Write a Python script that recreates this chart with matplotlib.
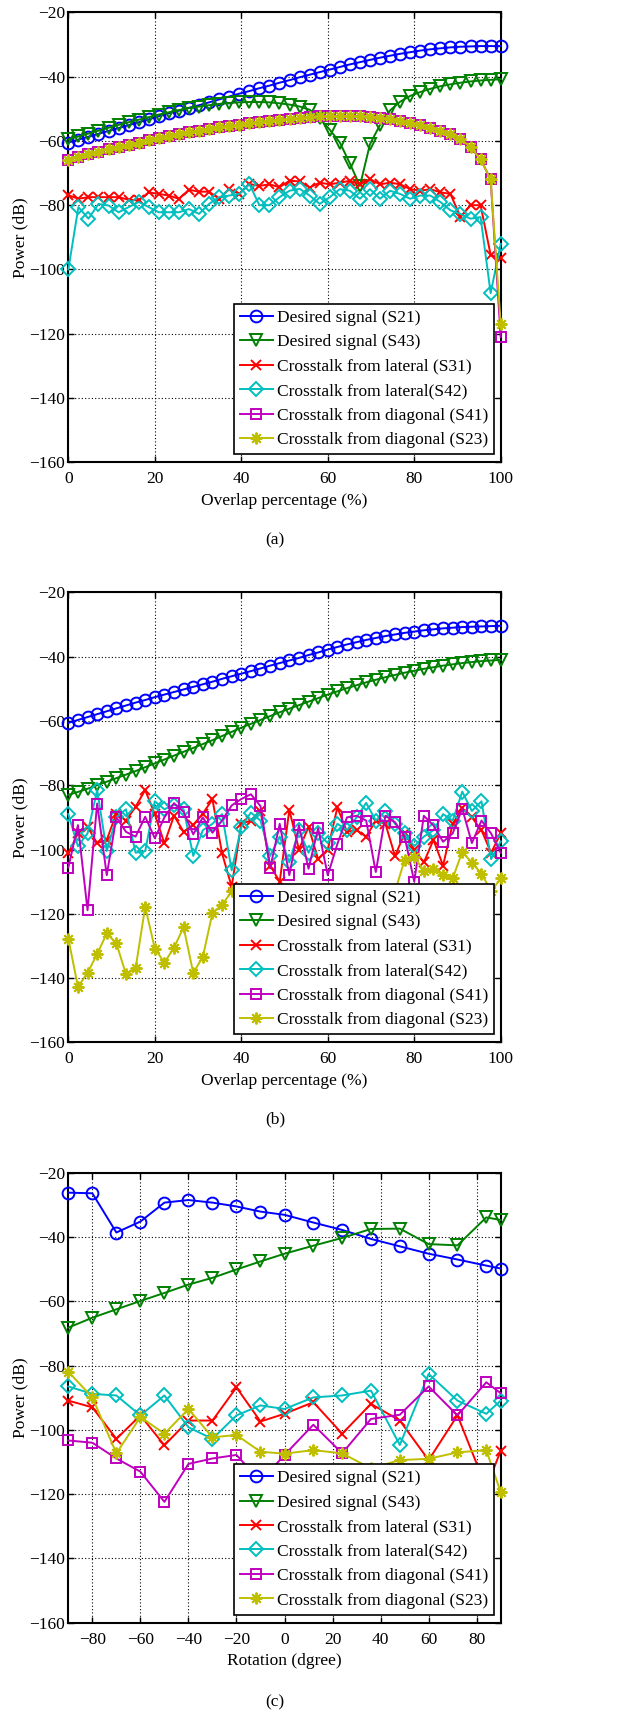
import numpy as np
import matplotlib
matplotlib.use("Agg")
import matplotlib.pyplot as plt

plt.rcParams["font.family"] = ["Liberation Serif", "DejaVu Serif"]

# (a) overlap sweep
overlap_a = np.linspace(0, 100, 44)
s21_a = [-60.5, -59.6, -58.7, -57.8, -56.9, -56.0, -55.1, -54.2, -53.3, -52.3,
         -51.4, -50.6, -49.7, -48.9, -48.0, -47.1, -46.2, -45.3, -44.5, -43.6,
         -42.8, -41.9, -41.1, -40.2, -39.4, -38.6, -37.8, -37.0, -36.2, -35.5,
         -34.8, -34.1, -33.5, -32.9, -32.4, -31.9, -31.5, -31.2, -30.9, -30.7,
         -30.6, -30.5, -30.5, -30.5]
s43_a = [-59.5, -58.6, -57.7, -56.8, -55.9, -55.0, -54.2, -53.4, -52.6, -51.8,
         -51.1, -50.4, -49.8, -49.3, -48.9, -48.5, -48.2, -48.0, -47.9, -47.9,
         -48.0, -48.3, -48.7, -49.3, -50.3, -53.0, -56.5, -60.5, -67.0, -74.0,
         -61.0, -55.0, -50.5, -47.8, -46.0, -44.8, -43.8, -43.0, -42.4, -41.9,
         -41.5, -41.2, -41.0, -40.8]
s31_a = [-76.9, -78.0, -77.5, -77.5, -77.5, -77.5, -78.3, -78.5, -76.0, -76.5,
         -77.0, -78.0, -75.2, -75.8, -75.8, -78.0, -75.0, -76.5, -73.4, -74.0,
         -73.5, -74.4, -72.4, -72.6, -74.5, -73.0, -73.5, -73.0, -72.4, -73.5,
         -71.9, -73.5, -73.0, -73.5, -75.0, -75.5, -75.0, -76.0, -76.5, -83.7,
         -80.0, -80.0, -95.5, -96.5]
s42_a = [-100.0, -80.6, -84.2, -79.6, -80.1, -82.2, -80.6, -79.0, -80.6, -82.2,
         -82.2, -82.2, -81.2, -82.7, -79.6, -77.5, -77.0, -76.5, -73.4, -80.0,
         -80.0, -77.5, -75.5, -74.9, -77.0, -79.6, -77.5, -75.0, -75.5, -78.0,
         -75.0, -78.0, -75.5, -76.5, -78.0, -77.0, -77.0, -79.0, -81.6, -82.7,
         -84.2, -83.7, -107.4, -92.0]
s41_a = [-65.8, -65.0, -64.2, -63.4, -62.6, -61.9, -61.2, -60.5, -59.8, -59.1,
         -58.5, -57.9, -57.3, -56.8, -56.3, -55.8, -55.3, -54.9, -54.5, -54.1,
         -53.7, -53.4, -53.1, -52.8, -52.6, -52.4, -52.3, -52.2, -52.2, -52.3,
         -52.5, -52.8, -53.2, -53.7, -54.4, -55.2, -56.0, -57.0, -58.0, -59.3,
         -62.0, -65.7, -72.0, -121.0]
s23_a = [-65.8, -65.0, -64.2, -63.4, -62.6, -61.9, -61.2, -60.5, -59.8, -59.1,
         -58.5, -57.9, -57.3, -56.8, -56.3, -55.8, -55.3, -54.9, -54.5, -54.1,
         -53.7, -53.4, -53.1, -52.8, -52.6, -52.4, -52.3, -52.2, -52.2, -52.3,
         -52.5, -52.8, -53.2, -53.7, -54.4, -55.2, -56.0, -57.0, -58.0, -59.3,
         -62.0, -65.7, -72.0, -117.0]

# (b) overlap sweep
overlap_b = np.linspace(0, 100, 46)
s21_b = [-60.6, -59.7, -58.8, -57.9, -57.0, -56.1, -55.2, -54.3, -53.5, -52.6,
         -51.8, -51.0, -50.2, -49.4, -48.6, -47.8, -46.9, -46.1, -45.3, -44.5,
         -43.7, -42.8, -42.0, -41.2, -40.4, -39.5, -38.7, -37.8, -37.0, -36.2,
         -35.5, -34.8, -34.2, -33.6, -33.1, -32.6, -32.2, -31.8, -31.5, -31.2,
         -31.0, -30.8, -30.7, -30.6, -30.5, -30.4]
s43_b = [-83.0, -82.1, -81.1, -80.0, -78.9, -77.8, -76.7, -75.6, -74.4, -73.2,
         -72.0, -70.8, -69.6, -68.4, -67.2, -66.0, -64.7, -63.4, -62.1, -60.9,
         -59.7, -58.5, -57.3, -56.2, -55.1, -54.0, -52.9, -51.8, -50.8, -49.8,
         -48.9, -48.0, -47.2, -46.4, -45.7, -45.0, -44.4, -43.8, -43.3, -42.8,
         -42.4, -42.0, -41.7, -41.4, -41.2, -41.0]
s31_b = [-101.2, -95.0, -93.0, -98.0, -97.0, -88.8, -91.0, -86.7, -81.5, -89.0,
         -98.1, -89.5, -94.5, -92.4, -88.8, -84.4, -101.2, -111.6, -92.0, -91.0,
         -88.0, -105.0, -110.0, -87.7, -100.0, -93.0, -103.0, -100.0, -86.9, -94.5,
         -94.0, -96.0, -91.0, -92.0, -102.0, -95.0, -100.0, -104.0, -97.0, -105.0,
         -92.0, -87.2, -90.0, -94.0, -101.0, -95.0]
s42_b = [-89.0, -99.0, -95.0, -81.5, -100.5, -90.0, -87.5, -101.0, -100.5, -85.0,
         -87.5, -86.0, -87.5, -102.0, -94.0, -92.0, -89.0, -106.5, -93.0, -88.5,
         -91.0, -102.0, -96.0, -104.0, -94.0, -101.0, -95.0, -98.0, -92.0, -94.0,
         -90.0, -85.5, -91.0, -88.0, -92.0, -95.0, -99.0, -96.0, -94.0, -89.0,
         -91.0, -82.0, -88.0, -85.0, -103.0, -97.5]
s41_b = [-105.6, -92.4, -118.9, -85.7, -108.0, -90.0, -94.5, -96.0, -89.8, -96.5,
         -90.0, -85.6, -88.3, -95.3, -90.0, -94.8, -91.0, -86.3, -84.3, -82.8,
         -86.5, -105.9, -92.0, -108.0, -92.5, -106.0, -93.4, -108.0, -98.3, -90.0,
         -89.5, -91.0, -107.0, -89.5, -91.5, -96.0, -110.0, -89.5, -92.5, -97.6,
         -95.0, -87.3, -98.0, -91.0, -95.0, -101.0]
s23_b = [-127.7, -142.7, -138.4, -132.5, -126.1, -129.2, -138.8, -137.0, -117.8, -130.8,
         -135.2, -130.5, -124.2, -138.4, -133.4, -119.7, -117.3, -113.0, -116.0, -114.0,
         -118.0, -115.0, -120.0, -114.0, -117.0, -113.0, -113.0, -114.0, -115.0, -118.0,
         -113.0, -116.0, -119.0, -114.0, -113.0, -103.3, -102.3, -106.6, -106.1, -108.0,
         -109.0, -100.7, -104.1, -107.5, -113.0, -109.0]

# (c) rotation sweep
rotation = [-90, -80, -70, -60, -50, -40, -30, -20, -10, 0, 12, 24, 36, 48, 60, 72, 84, 90]
s21_c = [-26.2, -26.4, -38.6, -35.2, -29.3, -28.5, -29.3, -30.5, -32.1, -33.1,
         -35.5, -37.8, -40.6, -42.9, -45.2, -47.0, -48.9, -49.8]
s43_c = [-68.2, -65.1, -62.5, -59.9, -57.4, -54.8, -52.7, -50.1, -47.6, -45.2,
         -42.7, -40.3, -37.5, -37.4, -42.2, -42.6, -33.9, -34.7]
s31_c = [-90.9, -93.0, -102.8, -95.5, -104.8, -97.1, -97.1, -86.8, -97.4, -95.0,
         -91.4, -101.2, -91.9, -97.1, -109.4, -95.5, -118.0, -106.5]
s42_c = [-86.5, -88.8, -89.3, -95.5, -89.3, -99.2, -102.8, -95.5, -92.4, -93.5,
         -89.9, -89.3, -87.8, -104.7, -82.6, -90.9, -95.0, -90.9]
s41_c = [-103.3, -104.0, -108.9, -113.0, -122.4, -110.6, -108.9, -107.8, -116.0, -107.8,
         -98.4, -107.3, -96.6, -95.3, -86.5, -95.5, -85.2, -88.6]
s23_c = [-81.9, -89.9, -107.3, -96.0, -101.2, -93.5, -102.3, -101.6, -106.8, -107.4,
         -106.3, -107.3, -112.0, -109.4, -109.0, -107.0, -106.3, -119.4]

labels = ["Desired signal (S21)", "Desired signal (S43)",
          "Crosstalk from lateral (S31)", "Crosstalk from lateral(S42)",
          "Crosstalk from diagonal (S41)", "Crosstalk from diagonal (S23)"]
colors = ["#0000ff", "#008000", "#ff0000", "#00bfbf", "#bf00bf", "#bfbf00"]
markers = ["o", "v", "x", "D", "s", (8, 2, 0)]
msizes = [8.5, 8.5, 7, 7, 7.5, 8.5]
FS = 12.5


def draw_panel(ax, x, curves, xlim, xticks, xlabel):
    for y, lab, c, m, ms in zip(curves, labels, colors, markers, msizes):
        ax.plot(x, y, color=c, lw=1.4, marker=m, ms=ms, mfc="none", mec=c,
                mew=1.4, label=lab, clip_on=False, zorder=3)
    ax.set_xlim(*xlim)
    ax.set_ylim(-160, -20)
    ax.set_xticks(xticks)
    ax.set_yticks(np.arange(-160, -19, 20))
    ax.grid(True, color="k", linestyle=(0, (1, 2)), linewidth=0.8)
    ax.tick_params(direction="in", top=True, right=True, length=4, width=1,
                   labelsize=FS, pad=6.5)
    ax.tick_params(axis="y", pad=2.5)
    for sp in ax.spines.values():
        sp.set_linewidth(1.5)
    ax.set_xlabel(xlabel, fontsize=FS, labelpad=4)
    ax.set_ylabel("Power (dB)", fontsize=FS, labelpad=0.5)
    leg = ax.legend(loc="lower right", bbox_to_anchor=(0.985, 0.018),
                    fontsize=FS, fancybox=False, edgecolor="k", framealpha=1,
                    borderpad=0.35, labelspacing=0.48, handlelength=1.85,
                    handletextpad=0.25, borderaxespad=0)
    leg.get_frame().set_linewidth(1.2)
    leg.set_zorder(5)


fig = plt.figure(figsize=(6.28, 17.13), dpi=100)
left, width, height = 0.1088, 0.6885, 0.2627

ax_a = fig.add_axes([left, 0.7301, width, height])
draw_panel(ax_a, overlap_a, [s21_a, s43_a, s31_a, s42_a, s41_a, s23_a],
           (0, 100), np.arange(0, 101, 20), "Overlap percentage (%)")

ax_b = fig.add_axes([left, 0.3915, width, height])
draw_panel(ax_b, overlap_b, [s21_b, s43_b, s31_b, s42_b, s41_b, s23_b],
           (0, 100), np.arange(0, 101, 20), "Overlap percentage (%)")

ax_c = fig.add_axes([left, 0.0527, width, height])
draw_panel(ax_c, rotation, [s21_c, s43_c, s31_c, s42_c, s41_c, s23_c],
           (-90, 90), np.arange(-80, 81, 20), "Rotation (dgree)")

for lab, yy in [("(a)", 0.6845), ("(b)", 0.3465), ("(c)", 0.0062)]:
    fig.text(0.438, yy, lab, ha="center", va="center", fontsize=FS)

fig.savefig("out.png", dpi=100)
